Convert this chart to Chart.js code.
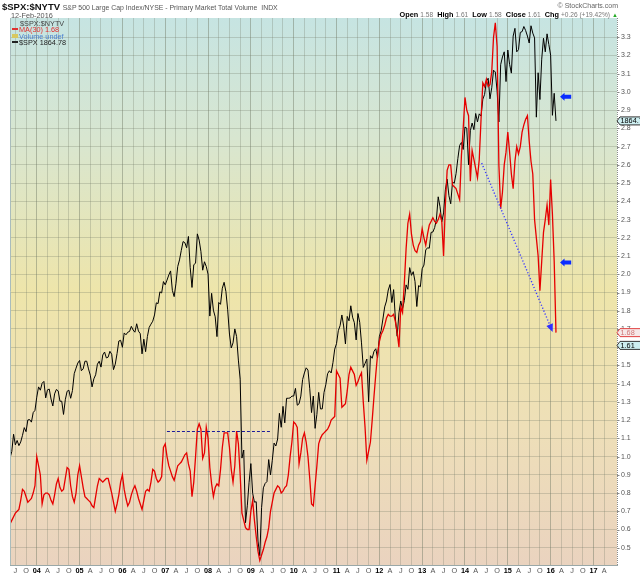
<!DOCTYPE html>
<html><head><meta charset="utf-8">
<script src="https://cdn.jsdelivr.net/npm/chart.js@4.4.0/dist/chart.umd.min.js"></script>
<style>
html,body{margin:0;padding:0;background:#fff;}
#wrap{position:relative;width:640px;height:576px;overflow:hidden;font-family:"Liberation Sans",Arial,sans-serif;}
canvas{position:absolute;left:0;top:0;}
.t{position:absolute;white-space:nowrap;line-height:1;}
.sw{display:inline-block;width:6px;height:2px;vertical-align:middle;margin-right:1px;position:relative;top:-1px;}
b{color:#000}
.g{color:#777;font-size:6.6px}
</style></head><body>
<div id="wrap">
<canvas id="c" width="640" height="576"></canvas>
<div class="t" style="left:2px;top:2px;font-size:9.5px;font-weight:bold;color:#111">$SPX:$NYTV <span style="font-weight:normal;font-size:6.9px;color:#555">S&amp;P 500 Large Cap Index/NYSE - Primary Market Total Volume &nbsp;INDX</span></div>
<div class="t" style="left:11px;top:12px;font-size:7.3px;color:#555">12-Feb-2016</div>
<div class="t" style="right:22px;top:2px;font-size:7px;color:#666">© StockCharts.com</div>
<div class="t" style="right:22px;top:11px;font-size:7.3px;color:#333"><b>Open</b> <span class="g">1.58</span>&nbsp; <b>High</b> <span class="g">1.61</span>&nbsp; <b>Low</b> <span class="g">1.58</span>&nbsp; <b>Close</b> <span class="g">1.61</span>&nbsp; <b>Chg</b> <span class="g">+0.26 (+19.42%)</span> <span style="color:#2a2;font-size:6px">▲</span></div>
<div class="t" style="left:20px;top:20px;font-size:7.3px;color:#444">$SPX:$NYTV</div>
<div class="t" style="left:12px;top:26px;font-size:7.3px;color:#e03030"><span class="sw" style="background:#e03030"></span>MA(30) 1.68</div>
<div class="t" style="left:12px;top:32.5px;font-size:7.3px;color:#4a7fd0"><span class="sw" style="background:#d8c860;height:4px"></span>Volume undef</div>
<div class="t" style="left:12px;top:39px;font-size:7.3px;color:#222"><span class="sw" style="background:#222"></span>$SPX 1864.78</div>
</div>
<script>
// ---- data (semi-monthly samples starting mid-May 2003) ----
const startYear = 2003.375;
const samplesPerYear = 24;
const spxClose = [
 946,964,1011,982,994,980,990,1008,1029,1018,1050,1051,1044,1070,1076,
 1112,1140,1131,1150,1155,1110,1132,1134,1107,1088,1121,1133,1129,1101,1101,1065,1105,1128,1131,1109,1130,1176,1191,1205,
 1212,1184,1189,1210,1210,1189,1172,1140,1162,1173,1202,1210,1194,1227,1235,1219,1221,1237,1229,1187,1202,1231,1265,1267,
 1248,1287,1282,1289,1291,1305,1295,1289,1312,1292,1285,1230,1270,1236,1277,1302,1311,1319,1336,1369,1367,1399,1396,1427,
 1418,1431,1445,1456,1403,1386,1421,1468,1486,1512,1536,1533,1519,1550,1465,1411,1473,1477,1557,1540,1509,1458,1481,1468,
 1447,1333,1395,1349,1331,1277,1370,1365,1409,1425,1400,1350,1284,1246,1260,1298,1277,1213,1161,946,968,770,816,880,
 931,850,826,827,720,680,811,865,877,882,942,900,940,987,979,998,1068,1030,1087,1042,1109,1109,1110,1115,
 1115,1136,1090,1094,1115,1160,1178,1192,1186,1135,1070,1115,1027,1065,1125,1080,1080,1125,1146,1176,1184,1178,1206,1243,
 1258,1293,1307,1336,1306,1257,1332,1320,1361,1330,1315,1268,1340,1316,1260,1193,1204,1216,1099,1225,1218,1237,1244,1219,
 1277,1293,1325,1358,1374,1404,1419,1370,1405,1325,1278,1342,1374,1353,1375,1418,1406,1465,1444,1454,1427,1359,1416,1413,
 1462,1472,1513,1519,1518,1561,1562,1574,1597,1658,1631,1590,1614,1677,1706,1661,1639,1698,1695,1721,1762,1798,1806,1787,
 1848,1845,1745,1838,1859,1841,1885,1862,1884,1878,1924,1937,1973,1981,1925,1955,2003,1998,1946,1862,2018,2039,2053,1972,
 2058,2019,1995,2096,2117,2053,2059,2106,2108,2122,2111,2096,2077,2124,2104,2091,1875,1996,1923,2033,2090,2053,2102,2073,
 2044,1880,1940,1864.78
];
const ratioMA30 = [
 0.63,0.65,0.67,0.69,0.70,0.71,0.76,0.82,0.81,0.78,0.75,0.76,0.77,0.80,0.84,
 1.00,0.95,0.90,0.74,0.79,0.80,0.80,0.79,0.76,0.74,0.79,0.85,0.88,0.83,0.81,0.82,0.88,0.94,0.93,0.84,0.78,0.75,0.80,0.90,
 0.95,0.89,0.83,0.78,0.77,0.76,0.75,0.73,0.72,0.78,0.84,0.88,0.87,0.86,0.87,0.88,0.88,0.84,0.80,0.75,0.70,0.74,0.79,0.86,
 0.90,0.82,0.77,0.73,0.75,0.79,0.82,0.84,0.81,0.77,0.74,0.71,0.76,0.81,0.82,0.81,0.86,0.93,0.92,0.88,0.86,0.87,0.89,1.05,
 1.07,1.00,0.95,0.92,0.89,0.87,0.91,0.95,0.96,0.97,0.99,1.01,1.02,0.96,0.92,0.78,0.86,1.00,1.15,1.18,1.15,0.99,1.02,1.16,
 1.10,0.94,0.85,0.78,0.83,0.85,0.84,0.93,1.05,1.13,1.13,1.13,1.05,0.93,0.86,0.95,1.14,1.07,0.90,0.69,0.65,0.61,0.60,0.60,
 0.70,0.76,0.65,0.56,0.48,0.43,0.46,0.49,0.53,0.56,0.61,0.70,0.75,0.80,0.82,0.84,0.83,0.80,0.81,0.83,0.84,0.90,1.00,1.08,
 1.19,1.18,1.16,0.96,1.02,1.10,1.13,1.08,1.00,0.88,0.74,0.73,0.84,0.95,1.07,1.10,1.12,1.13,1.14,1.15,1.17,1.20,1.21,1.22,
 1.47,1.45,1.43,1.27,1.28,1.29,1.36,1.45,1.49,1.47,1.45,1.39,1.41,1.44,1.46,1.30,1.16,0.98,1.03,1.08,1.20,1.33,1.45,1.56,
 1.63,1.67,1.69,1.72,1.76,1.78,1.77,1.77,1.78,1.74,1.68,1.60,1.82,1.79,1.95,2.14,2.28,2.33,2.22,2.16,2.13,2.12,2.16,2.18,
 2.25,2.20,2.16,2.22,2.27,2.29,2.31,2.29,2.28,2.30,2.33,2.29,2.10,2.38,2.57,2.60,2.60,2.49,2.48,2.47,2.44,2.41,2.65,2.80,
 2.97,2.90,2.87,2.51,2.68,2.63,2.58,2.53,2.63,2.85,3.05,3.03,3.07,3.03,3.04,3.11,3.30,3.38,3.25,2.60,2.36,2.45,2.60,2.67,
 2.78,2.67,2.55,2.47,2.62,2.70,2.66,2.70,2.78,2.82,2.85,2.87,2.73,2.62,2.55,2.30,2.20,2.10,1.91,2.07,2.23,2.30,2.38,2.27,
 2.52,2.33,2.07,1.68
];
const lastRatioClose = 1.61;
const lastMA = 1.68;
const lastSpx = 1864.78;
const quarterLetters = ['', 'A', 'J', 'O'];
const firstTick = 2003.5, lastTick = 2017.25;
const yTickMin = 0.5, yTickMax = 3.3;
const supportLine = {from: 2007.04, to: 2009.49, level: 1.14};
const trendLine = {x0: 2014.39, y0: 2.61, x1: 2016.03, y1: 1.694};
const pointerLevels = [2.974, 2.064];
const pointerX = [2016.22, 2016.48];

const toPts = arr => arr.map((v, i) => ({x: startYear + i / samplesPerYear, y: v}));
const xTicks = [];
for (let t = firstTick; t <= lastTick + 1e-6; t += 0.25) xTicks.push(+t.toFixed(2));
const yTicks = [];
for (let k = Math.round(yTickMin * 10); k <= Math.round(yTickMax * 10); k++) yTicks.push(k / 10);
const qOf = v => Math.round((v - Math.floor(v + 1e-6)) * 4) % 4;
const isYearTick = c => !!(c && c.tick && typeof c.tick.value === 'number' && qOf(c.tick.value) === 0);
const FONT = '"Liberation Sans", Arial, sans-serif';
Chart.defaults.font.family = FONT;

const bg = {
  id: 'bg',
  beforeDraw(chart) {
    const {ctx, chartArea: a} = chart;
    ctx.save();
    ctx.fillStyle = '#fff';
    ctx.fillRect(0, 0, chart.width, chart.height);
    const g = ctx.createLinearGradient(0, a.top, 0, a.bottom);
    g.addColorStop(0, '#c6e4e2');
    g.addColorStop(0.22, '#d8e6d0');
    g.addColorStop(0.5, '#eee5aa');
    g.addColorStop(0.75, '#eedfb8');
    g.addColorStop(1, '#ead3bf');
    ctx.fillStyle = g;
    ctx.fillRect(a.left, a.top, a.right - a.left, a.bottom - a.top);
    ctx.restore();
  },
  afterDraw(chart) {
    const {ctx, chartArea: a, scales: {y}} = chart;
    ctx.save();
    ctx.strokeStyle = '#a9bcbc';
    ctx.lineWidth = 1;
    ctx.beginPath();
    ctx.moveTo(a.left + 0.5, a.top); ctx.lineTo(a.left + 0.5, a.bottom);
    ctx.stroke();
    // dotted right axis line with small tick marks
    ctx.strokeStyle = '#8a8a8a';
    ctx.setLineDash([1, 1]);
    ctx.beginPath();
    ctx.moveTo(a.right + 0.5, a.top); ctx.lineTo(a.right + 0.5, a.bottom);
    ctx.stroke();
    ctx.setLineDash([]);
    ctx.beginPath();
    yTicks.forEach(v => {
      const py = Math.round(y.getPixelForValue(v)) + 0.5;
      ctx.moveTo(a.right, py); ctx.lineTo(a.right + 2.5, py);
    });
    ctx.stroke();
    ctx.restore();
  }
};

function tag(ctx, xL, yc, text, fill, stroke, color) {
  const h = 8;
  ctx.beginPath();
  ctx.moveTo(xL, yc);
  ctx.lineTo(xL + 3, yc - h / 2);
  ctx.lineTo(xL + 40, yc - h / 2);
  ctx.lineTo(xL + 40, yc + h / 2);
  ctx.lineTo(xL + 3, yc + h / 2);
  ctx.closePath();
  ctx.fillStyle = fill; ctx.fill();
  ctx.strokeStyle = stroke; ctx.lineWidth = 1; ctx.stroke();
  ctx.fillStyle = color;
  ctx.font = '7.3px ' + FONT;
  ctx.textBaseline = 'middle';
  ctx.textAlign = 'left';
  ctx.fillText(text, xL + 3.5, yc + 0.5);
}

const annot = {
  id: 'annot',
  afterDatasetsDraw(chart) {
    const {ctx, scales: {x, y}} = chart;
    ctx.save();
    ctx.strokeStyle = '#1c1c9a'; ctx.lineWidth = 1; ctx.setLineDash([3, 2]);
    const ys = Math.round(y.getPixelForValue(supportLine.level)) + 0.5;
    ctx.beginPath();
    ctx.moveTo(x.getPixelForValue(supportLine.from), ys);
    ctx.lineTo(x.getPixelForValue(supportLine.to), ys);
    ctx.stroke();
    const px0 = x.getPixelForValue(trendLine.x0), py0 = y.getPixelForValue(trendLine.y0);
    const px1 = x.getPixelForValue(trendLine.x1), py1 = y.getPixelForValue(trendLine.y1);
    ctx.strokeStyle = '#3a3aff'; ctx.lineWidth = 1.4; ctx.setLineDash([1.2, 2]);
    ctx.beginPath(); ctx.moveTo(px0, py0); ctx.lineTo(px1, py1); ctx.stroke();
    ctx.setLineDash([]);
    const ang = Math.atan2(py1 - py0, px1 - px0);
    ctx.fillStyle = '#2f2fff';
    ctx.beginPath();
    ctx.moveTo(px1 + 2 * Math.cos(ang), py1 + 2 * Math.sin(ang));
    ctx.lineTo(px1 - 6 * Math.cos(ang) + 3.5 * Math.sin(ang), py1 - 6 * Math.sin(ang) - 3.5 * Math.cos(ang));
    ctx.lineTo(px1 - 6 * Math.cos(ang) - 3.5 * Math.sin(ang), py1 - 6 * Math.sin(ang) + 3.5 * Math.cos(ang));
    ctx.closePath(); ctx.fill();
    ctx.fillStyle = '#0a2cff';
    pointerLevels.forEach(lv => {
      const yc = y.getPixelForValue(lv);
      const xt = x.getPixelForValue(pointerX[0]);
      const xe = x.getPixelForValue(pointerX[1]);
      ctx.beginPath();
      ctx.moveTo(xt, yc);
      ctx.lineTo(xt + 4.5, yc - 4);
      ctx.lineTo(xt + 4.5, yc - 2);
      ctx.lineTo(xe, yc - 2);
      ctx.lineTo(xe, yc + 2);
      ctx.lineTo(xt + 4.5, yc + 2);
      ctx.lineTo(xt + 4.5, yc + 4);
      ctx.closePath(); ctx.fill();
    });
    ctx.restore();
  },
  afterDraw(chart) {
    const {ctx, chartArea: a, scales: {y, y2}} = chart;
    ctx.save();
    tag(ctx, a.right, y2.getPixelForValue(lastSpx), lastSpx.toFixed(2), '#cdeef0', '#333', '#000');
    tag(ctx, a.right, y.getPixelForValue(lastMA), lastMA.toFixed(2), '#f6e8e8', '#e04040', '#d07878');
    tag(ctx, a.right, y.getPixelForValue(lastRatioClose), lastRatioClose.toFixed(2), '#cdeef0', '#333', '#000');
    ctx.restore();
  }
};

new Chart(document.getElementById('c'), {
  type: 'line',
  data: {
    datasets: [
      {label: 'MA(30)', data: toPts(ratioMA30), yAxisID: 'y', borderColor: '#e60000', borderWidth: 1.3, pointRadius: 0, tension: 0, order: 0},
      {label: '$SPX', data: toPts(spxClose), yAxisID: 'y2', borderColor: '#000', borderWidth: 1, pointRadius: 0, tension: 0, order: 1}
    ]
  },
  options: {
    responsive: false,
    animation: false,
    devicePixelRatio: 1,
    layout: {padding: {left: 10, top: 18, right: 0, bottom: 0}},
    plugins: {legend: {display: false}, tooltip: {enabled: false}},
    scales: {
      x: {
        type: 'linear', position: 'bottom', min: startYear, max: 2017.55,
        afterBuildTicks: s => { s.ticks = xTicks.map(v => ({value: v})); },
        afterFit: s => { s.height = 11; },
        ticks: {
          autoSkip: false, maxRotation: 0, padding: 2,
          callback: v => { const q = qOf(v); return q === 0 ? String(Math.round(v) % 100).padStart(2, '0') : quarterLetters[q]; },
          font: c => ({size: 7.3, family: FONT, weight: isYearTick(c) ? 'bold' : 'normal'}),
          color: c => isYearTick(c) ? '#000' : '#555'
        },
        grid: {drawTicks: false, color: c => isYearTick(c) ? 'rgba(110,120,100,0.45)' : 'rgba(110,120,100,0.28)'},
        border: {display: true, color: '#9aa8a8'}
      },
      y: {
        position: 'right', min: 0.4053, max: 3.4059,
        afterBuildTicks: s => { s.ticks = yTicks.map(v => ({value: v})); },
        afterFit: s => { s.width = 23; },
        ticks: {autoSkip: false, padding: 4, color: '#555', font: {size: 7, family: FONT}, callback: v => Number(v).toFixed(1)},
        grid: {drawTicks: false, color: 'rgba(110,120,100,0.28)'},
        border: {display: false}
      },
      y2: {display: false, min: 654.7, max: 2145.2}
    }
  },
  plugins: [bg, annot]
});
</script>
</body></html>
